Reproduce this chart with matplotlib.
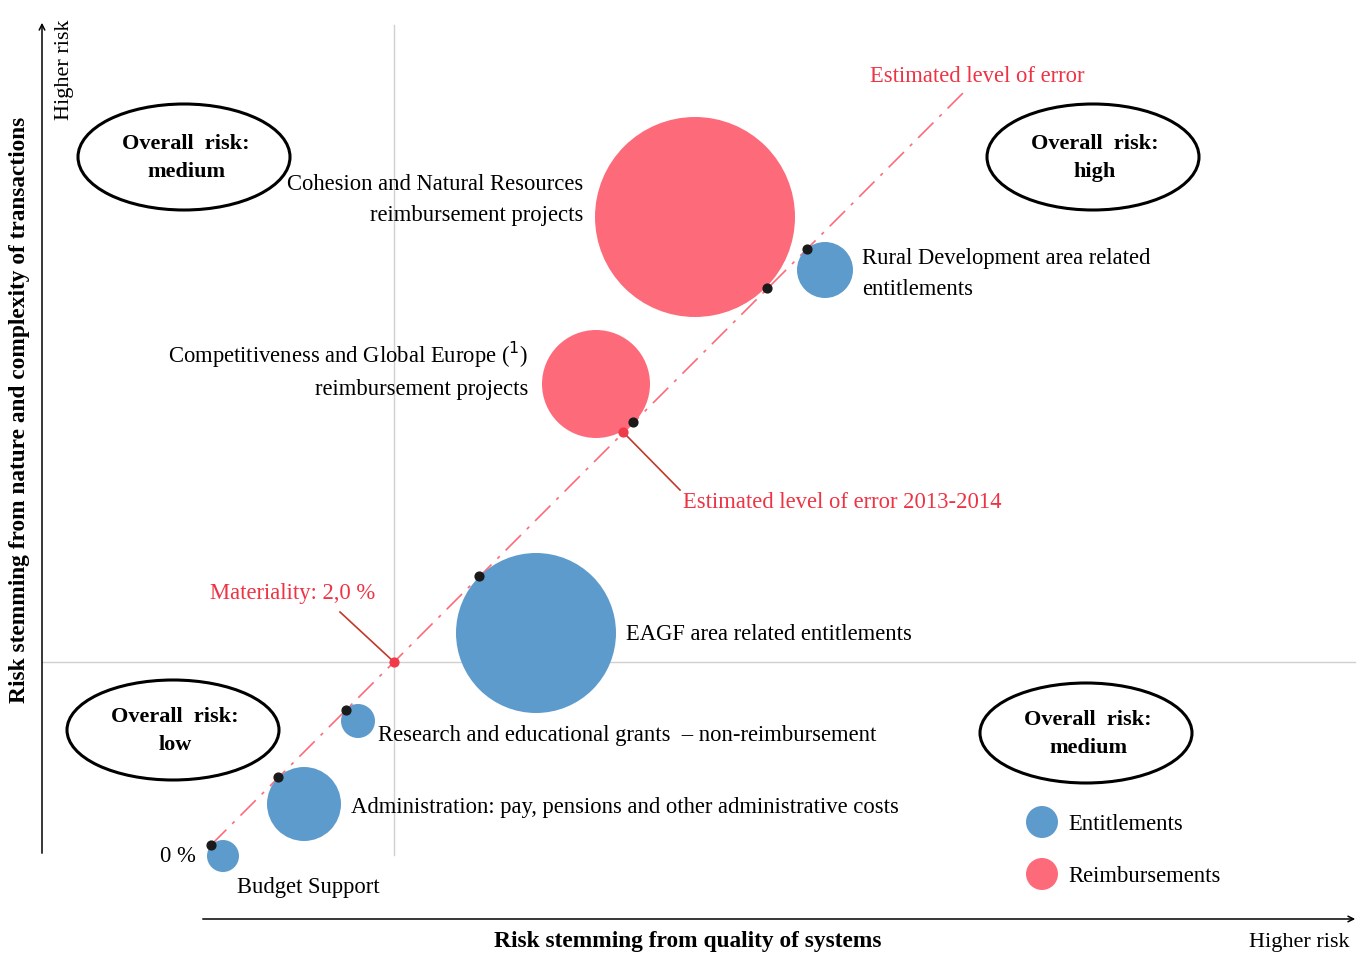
import numpy as np
import matplotlib.pyplot as plt
from matplotlib.patches import Circle, Ellipse

plt.rcParams['font.family'] = ['Liberation Serif', 'DejaVu Serif']

# bubbles (position on the risk map, radius ~ share of spending)
names = ['Cohesion and Natural Resources\nreimbursement projects',
         'Rural Development area related\nentitlements',
         'Competitiveness and Global Europe ($^{1}$)\nreimbursement projects',
         'EAGF area related entitlements',
         'Research and educational grants  \u2013 non-reimbursement',
         'Administration: pay, pensions and other administrative costs',
         'Budget Support']
bx = [695, 825, 596, 536, 358, 304, 223]
by = [217, 270, 384, 633, 721, 804, 856]
br = [100, 28, 54, 80, 17, 37, 16]
kind = ['R', 'E', 'R', 'E', 'E', 'E', 'E']

# estimated level of error for each area (on the diagonal)
err_x = [807, 767, 633, 479, 346, 278, 211]
err_y = [249, 288, 422, 576, 710, 777, 845]

# label placement
lab_x = [583, 862, 528, 626, 378, 351, 237]
lab_y = [200, 274, 370, 634, 736, 807, 887]
lab_ha = ['right', 'left', 'right', 'left', 'left', 'left', 'left']

# overall risk zones
zone_text = ['Overall  risk:\nmedium', 'Overall  risk:\nhigh',
             'Overall  risk:\nlow', 'Overall  risk:\nmedium']
zone_x = [184, 1093, 173, 1086]
zone_y = [157, 157, 730, 733]
zone_w = [212, 212, 212, 212]
zone_h = [106, 106, 100, 100]

blue = '#5e9bcd'
red = '#fd6b7b'
colors = {'E': blue, 'R': red}
fs = 16.3

fig = plt.figure(figsize=(13.72, 9.61), dpi=100)
ax = fig.add_axes([0, 0, 1, 1])
ax.set_xlim(0, 1372)
ax.set_ylim(961, 0)
ax.axis('off')

# quadrant lines
ax.plot([394, 394], [25, 855], color='#d0d0d0', lw=1)
ax.plot([42, 1355], [662, 662], color='#d0d0d0', lw=1)

# axes arrows
ax.annotate('', xy=(42, 20), xytext=(42, 856),
            arrowprops=dict(arrowstyle='->', color='black', lw=1.1))
ax.annotate('', xy=(1358, 919), xytext=(200, 919),
            arrowprops=dict(arrowstyle='->', color='black', lw=1.1))
ax.text(64, 70, 'Higher risk', rotation=90, ha='center', va='center', fontsize=16)
ax.text(1299, 943, 'Higher risk', ha='center', va='center', fontsize=16)
ax.text(20, 410, 'Risk stemming from nature and complexity of transactions',
        rotation=90, ha='center', va='center', fontsize=16.8, fontweight='bold')
ax.text(688, 941, 'Risk stemming from quality of systems',
        ha='center', va='center', fontsize=16.8, fontweight='bold')

# diagonal of estimated error
ax.plot([211, 963], [845, 93], color=red, lw=1.2, dashes=(13, 5, 2, 5), zorder=1)

# bubbles
for x, y, r, k in zip(bx, by, br, kind):
    ax.add_patch(Circle((x, y), r, color=colors[k], zorder=2, lw=0))
for n, x, y, ha in zip(names, lab_x, lab_y, lab_ha):
    ax.text(x, y, n, ha=ha, va='center', fontsize=fs, linespacing=1.6)

ax.scatter(err_x, err_y, s=40, color='#1a1a1a', zorder=4)

# materiality and 2013-2014 error
ax.scatter([394, 623], [662, 432], s=40, color='#f03a4a', zorder=4)
ax.plot([340, 394], [612, 662], color='#c0392b', lw=1.2, zorder=3)
ax.plot([623, 680], [432, 490], color='#c0392b', lw=1.2, zorder=3)
ax.text(210, 593, 'Materiality: 2,0 %', color='#ee3344', fontsize=fs, va='center')
ax.text(683, 503, 'Estimated level of error 2013-2014', color='#ee3344',
        fontsize=fs, va='center')
ax.text(870, 77, 'Estimated level of error', color='#ee3344', fontsize=fs, va='center')
ax.text(196, 856, '0 %', ha='right', va='center', fontsize=fs)

# zones
for t, x, y, w, h in zip(zone_text, zone_x, zone_y, zone_w, zone_h):
    ax.add_patch(Ellipse((x, y), w, h, fill=False, ec='black', lw=2.2, zorder=3))
    ax.text(x + 2, y + 1, t, ha='center', va='center', fontsize=16,
            fontweight='bold', linespacing=1.55)

# legend
leg_lab = ['Entitlements', 'Reimbursements']
leg_y = [822, 874]
for lab, y, c in zip(leg_lab, leg_y, [blue, red]):
    ax.add_patch(Circle((1042, y), 16, color=c, lw=0))
    ax.text(1068, y + 2, lab, va='center', fontsize=fs)

fig.savefig('out.png', dpi=100)
